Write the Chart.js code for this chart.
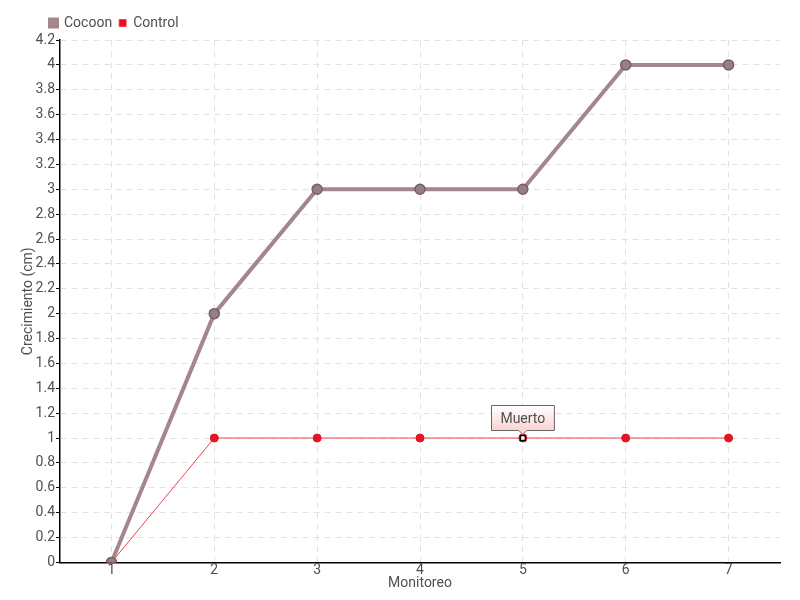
<!DOCTYPE html>
<html>
<head>
<meta charset="utf-8">
<script src="https://cdn.jsdelivr.net/npm/chart.js@4.4.0/dist/chart.umd.min.js"></script>
<style>
  html, body { margin: 0; padding: 0; background: #fff; }
  #wrap { width: 800px; height: 600px; }
</style>
</head>
<body>
<div id="wrap"><canvas id="chart" width="800" height="600"></canvas></div>
<script>
// data
const monitoreo = ['1', '2', '3', '4', '5', '6', '7'];
const cocoon = [0, 2, 3, 3, 3, 4, 4];
const control = [0, 1, 1, 1, 1, 1, 1];
const noteIndex = 4;          // Control point marked "Muerto"
const noteText = 'Muerto';

const FONT = 'Roboto, "Open Sans", sans-serif';
const TEXT = '#505050';
const GRID = '#e2e2e2';

// draws the "Muerto" callout above the marked Control point
const notePlugin = {
    id: 'note',
    afterLayout(chart) {
        // legend starts near the y axis instead of the canvas edge
        chart.legend.left = 43;
    },
    afterDatasetsDraw(chart) {
        const meta = chart.getDatasetMeta(1);
        const pt = meta.data[noteIndex];
        if (!pt) return;
        const ctx = chart.ctx;
        const x = pt.x, y = pt.y;
        ctx.save();
        // white square marker
        ctx.fillStyle = '#fff';
        ctx.strokeStyle = '#000';
        ctx.lineWidth = 1.5;
        ctx.fillRect(x - 2.5, y - 2.5, 5, 5);
        ctx.strokeRect(x - 2.5, y - 2.5, 5, 5);

        // callout box
        ctx.font = '14px ' + FONT;
        const w = ctx.measureText(noteText).width + 18;
        const h = 25;
        const bx = Math.round(x - w / 2) + 0.5, by = Math.round(y - 8 - h) + 0.5;
        const g = ctx.createLinearGradient(0, by, 0, by + h);
        g.addColorStop(0, '#ffffff');
        g.addColorStop(1, '#fbd3d3');
        ctx.beginPath();
        ctx.moveTo(bx, by);
        ctx.lineTo(bx + w, by);
        ctx.lineTo(bx + w, by + h);
        ctx.lineTo(x + 4, by + h);
        ctx.lineTo(x, by + h + 4);
        ctx.lineTo(x - 4, by + h);
        ctx.lineTo(bx, by + h);
        ctx.closePath();
        ctx.fillStyle = g;
        ctx.fill();
        ctx.strokeStyle = '#666';
        ctx.lineWidth = 1;
        ctx.stroke();
        ctx.fillStyle = TEXT;
        ctx.textAlign = 'center';
        ctx.textBaseline = 'middle';
        ctx.fillText(noteText, x, by + h / 2 + 1);
        ctx.restore();
    }
};

new Chart(document.getElementById('chart'), {
    type: 'line',
    data: {
        labels: monitoreo,
        datasets: [
            {
                label: 'Cocoon',
                data: cocoon,
                borderColor: '#a3878d',
                backgroundColor: '#a3878d',
                borderWidth: 4,
                pointRadius: 5,
                pointBorderColor: '#765e65',
                pointBorderWidth: 1.5,
                pointBackgroundColor: '#9a7e85',
                tension: 0
            },
            {
                label: 'Control',
                data: control,
                borderColor: '#f2404f',
                backgroundColor: '#e8101f',
                borderWidth: 1,
                pointRadius: 4,
                pointBorderColor: '#e31423',
                pointBackgroundColor: '#e31423',
                tension: 0
            }
        ]
    },
    options: {
        responsive: false,
        animation: false,
        layout: { padding: { left: 20, right: 20, top: 9, bottom: 8 } },
        plugins: {
            legend: {
                align: 'start',
                labels: {
                    boxWidth: 7,
                    boxHeight: 7,
                    padding: 7,
                    color: TEXT,
                    font: { family: FONT, size: 14 }
                }
            },
            tooltip: { enabled: false }
        },
        scales: {
            x: {
                offset: true,
                border: { color: '#000', width: 1.5, dash: [6, 5] },
                grid: {
                    offset: false,
                    color: GRID,
                    drawTicks: false
                },
                ticks: { color: TEXT, font: { family: FONT, size: 14 }, padding: 0 },
                title: {
                    display: true,
                    text: 'Monitoreo',
                    color: TEXT,
                    font: { family: FONT, size: 14 },
                    padding: { top: -4, bottom: 0 }
                }
            },
            y: {
                min: 0,
                max: 4.2,
                afterFit(scale) { scale.width = 40; },
                border: { color: '#000', width: 1.5, dash: [6, 5] },
                grid: {
                    color: GRID,
                    drawTicks: true,
                    tickLength: 4,
                    tickColor: '#000',
                    tickBorderDash: []
                },
                ticks: {
                    stepSize: 0.2,
                    color: TEXT,
                    padding: 1,
                    font: { family: FONT, size: 14 },
                    callback: v => Math.round(v * 10) / 10
                },
                title: {
                    display: true,
                    text: 'Crecimiento (cm)',
                    color: TEXT,
                    font: { family: FONT, size: 14 },
                    padding: { top: 0, bottom: 0 }
                }
            }
        }
    },
    plugins: [notePlugin]
});
</script>
</body>
</html>
